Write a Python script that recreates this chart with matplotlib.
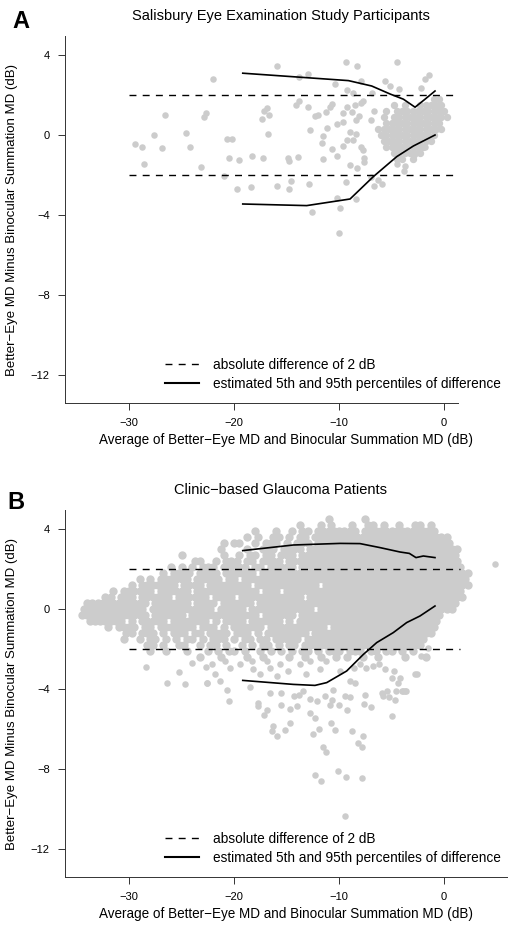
#!/usr/bin/env python3
"""
Bland-Altman style plots: better-eye MD vs binocular summation MD
"""

import matplotlib.pyplot as plt
from matplotlib.lines import Line2D

plt.rcParams['font.family'] = ['Liberation Sans', 'DejaVu Sans']

# ---- panel A: Salisbury Eye Examination Study ----
# individual points (average MD, difference), dB
a_x = [-29.4, -28.8, -28.6, -27.6, -26.9, -26.6, -24.6, -24.2, -23.1, -22.9, -22.7, -22.0,
       -21.0, -20.7, -20.2, -20.5, -19.7, -19.5, -18.4, -18.3, -17.2, -17.3, -17.1, -16.9,
       -16.65, -16.8, -15.9, -15.9, -14.9, -14.8, -14.8, -14.6, -13.9, -14.1, -13.85, -13.8,
       -12.95, -12.95, -12.85, -12.75, -12.6, -12.3, -12.0, -11.5, -11.6, -11.5, -11.2, -10.9,
       -10.7, -11.1, -10.7, -10.35, -10.2, -10.2, -10.2, -9.95, -9.97, -9.6, -9.6, -9.6,
       -9.3, -9.3, -9.27, -9.27, -9.2, -9.0, -9.0, -8.8, -8.7, -8.7, -8.5, -8.4, -8.4,
       -8.35, -8.3, -8.3, -8.1, -7.9, -7.9, -7.9, -7.7, -7.7, -7.6, -7.6, -7.0, -7.0,
       -6.9, -6.7, -6.7, -6.3, -5.9, -5.6, -5.1, -4.5, -4.3, -4.5, -3.7, -3.8, -2.9,
       -2.2, -1.8, -1.4, -1.8]
a_y = [-0.47, -0.58, -1.45, -0.02, -0.63, 1.0, 0.12, -0.58, -1.58, 0.88, 1.08, 2.82,
       -2.03, -0.22, -0.22, -1.15, -2.68, -1.23, -2.58, -1.03, -1.15, 0.8, 1.22, 1.33,
       0.98, 0.07, 3.47, -2.53, -1.13, -1.3, -2.68, -2.3, -1.12, 1.5, 1.72, 2.92,
       3.03, 1.4, -2.43, 0.23, -3.85, 0.95, 1.0, -0.03, -0.38, -1.22, 1.17, 1.42,
       1.53, 0.33, -0.7, 2.55, -1.03, 0.53, -3.13, -3.63, -4.92, -0.57, 1.08, 0.67,
       3.67, -2.37, 2.25, -0.25, 1.42, 0.13, -1.48, 1.17, 2.08, -0.25, 1.5, 0.75, 0.05,
       -3.18, 3.45, -1.67, 0.95, 2.68, 1.58, -0.58, -0.75, 1.68, -1.17, -1.33, 0.75, -2.08,
       2.08, 1.22, -2.53, -2.25, -2.45, 2.7, 2.45, 3.67, 2.3, -1.45, -1.53, -1.78, -1.0,
       2.37, 2.78, 3.0, -0.62]
# dense cluster near normal fields: one '#' per point, 0.5 dB columns, 0.3 dB rows
a_map_x0 = -7.0
a_map_y0 = 1.8
a_map = ["............##..",
         "....#.#..#####..",
         "...#.##########.",
         "..#.###########.",
         "...###########..",
         ".#############..",
         "..###########...",
         "..##########....",
         "...########.....",
         "....######......",
         ".....##.#......."]
# estimated 5th / 95th percentiles of difference
a_upper_x = [-19.17, -9.11, -6.89, -5.14, -3.87, -2.76, -1.81, -0.86]
a_upper_y = [3.09, 2.72, 2.45, 2.05, 1.79, 1.39, 1.79, 2.2]
a_lower_x = [-19.17, -13.08, -8.95, -6.73, -4.5, -2.92, -0.86]
a_lower_y = [-3.45, -3.53, -3.2, -2.08, -1.08, -0.55, 0.0]

# ---- panel B: clinic-based glaucoma patients ----
b_map_x0 = -35.0
b_map_y0 = 4.5
E = ".........."
F = "##########"
b_map = [
    E + E + E + E + "........#." + ".....#...." + E + E,
    E + E + E + E + "..#...#.#." + "..#..##.#." + ".#..##.#.." + E,
    E + E + E + "....#...#." + ".#.##.####" + "####.#####" + "#########." + E,
    E + E + E + "..#.#..##." + "#.##.#####" + F + F + "#.........",
    E + E + "........#." + "##..#.###." + "#.###.####" + F + F + "##........",
    E + E + ".......#.." + "..#..###.#" + "###.######" + F + F + "###.......",
    E + E + "#.......#." + ".#.##.##.#" + "##.#######" + F + F + "###.......",
    E + E + "..##..#.##" + "#.##.####." + F + F + F + "###.......",
    E + "........#." + "#.#.###.##" + "###.##.###" + "##.#######" + F + F + "####......",
    E + "......#.##" + "##.####.##" + "####.#####" + F + F + F + "#####.....",
    E + "..#.#.####" + "##.#####.#" + "#.########" + F + F + F + "#####.....",
    E + "#.#######." + "####.#####" + "###.######" + "######.###" + F + F + "#####.....",
    ".......#.#" + "#####.####" + "##.#######" + "#####.###." + F + F + F + "####......",
    ".....##.##" + "#.######.#" + "#####.####" + ".#########" + "###.######" + F + F + "####......",
    "..########" + "####.#####" + "##.####.##" + "####.#####" + F + F + F + "###.......",
    ".#########" + "###.######" + "######.###" + "##.#######" + "#####.####" + F + F + "##........",
    ".#########" + "####.#####" + "#.########" + "#####.####" + "##.#######" + F + F + E,
    "..#######." + "#.#####.##" + "#####.#.##" + "##.######." + "#.########" + F + "#########." + E,
    "......#.##" + "##.##.####" + "###.###.#." + "######.###" + "########.#" + F + "#########." + E,
    ".........#" + "#.###.#.##" + "#.##.####." + "###.#.####" + "####.#####" + F + "########.." + E,
    ".........#" + "..#.##.#.#" + ".##.#.###." + "#.##.##.##" + "###.######" + F + "#######..." + E,
    E + "...##.#..#" + "#..#.##.#." + ".#.#.##.#." + "##.#######" + F + "######...." + E,
    E + "....#..#.." + ".#...#.#.#" + "#.#..#.#.#" + ".#.##.#.##" + "#.###.##.#" + "#.#.#....." + E,
    E + E + "...#...#.." + "..#..#...." + "#..#..#..#" + ".#..#..#.." + "..#...#..." + E,
]
# scattered points outside the dense cloud
b_x = [4.9, -28.4, -26.35, -25.2, -24.7, -24.0, -22.7, -22.6, -22.1, -21.8, -21.3, -20.9,
       -20.4, -19.4, -18.3, -18.15, -17.5, -16.9, -16.6, -15.9, -15.6, -14.9, -13.7, -13.1,
       -12.75, -11.8, -11.2, -9.9, -9.0, -8.6, -8.0, -7.4, -6.8, -6.2, -5.6, -4.98, -4.4,
       -3.75, -2.8, -2.2, -1.5, -4.8, -4.2, -2.6,
       -22.6, -20.7, -20.5, -18.5, -17.7, -17.7, -17.1, -16.9, -16.6, -16.25, -16.4, -15.9,
       -15.5, -15.5, -15.1, -14.7, -14.7, -14.3, -14.0, -13.8, -13.4, -12.75, -12.75, -12.45,
       -12.3, -12.3, -12.1, -11.9, -11.7, -11.55, -11.3, -11.2, -10.9, -10.8, -10.7, -10.6,
       -10.4, -10.1, -10.0, -9.4, -9.4, -9.3, -9.2, -9.0, -8.8, -8.5, -8.2, -7.8, -7.8,
       -7.7, -7.6, -7.5, -7.0, -5.9, -5.8, -5.2, -5.0, -4.7, -4.6, -3.9, -5.46, -4.03, -3.6]
b_y = [2.27, -2.9, -3.68, -3.13, -3.73, -2.68, -2.9, -3.68, -2.73, -3.27, -3.6, -2.6,
       -2.93, -2.77, -2.6, -3.02, -3.27, -2.6, -2.93, -3.35, -2.77, -3.1, -2.77, -3.27,
       -2.6, -3.02, -2.6, -3.1, -3.6, -2.93, -2.77, -2.93, -2.85, -2.77, -3.02, -3.43, -3.68,
       -4.1, -3.27, -2.35, -1.93, -3.1, -3.45, -3.27,
       -3.68, -4.07, -4.6, -3.9, -4.68, -4.85, -5.32, -5.07, -4.18, -5.85, -6.1, -6.35,
       -4.8, -4.18, -6.07, -5.02, -5.68, -4.35, -4.85, -4.3, -4.1, -5.18, -4.52, -6.27,
       -5.47, -8.32, -4.6, -5.98, -8.6, -6.9, -4.35, -7.15, -4.8, -5.68, -4.57, -4.07,
       -6.05, -8.1, -4.8, -4.35, -10.35, -8.4, -5.03, -4.4, -6.1, -3.68, -6.68, -6.9, -8.43,
       -6.35, -4.77, -4.32, -4.88, -4.18, -4.35, -4.4, -5.37, -4.55, -4.1, -4.1, -4.1, -4.1, -4.1]
b_upper_x = [-19.17, -14.35, -9.9, -8.0, -6.1, -4.19, -3.3, -2.67, -1.97, -0.86]
b_upper_y = [2.92, 3.2, 3.28, 3.27, 3.07, 2.85, 2.78, 2.57, 2.65, 2.57]
b_lower_x = [-19.17, -14.35, -12.29, -11.17, -9.27, -7.68, -6.41, -4.83, -3.56, -2.29, -0.86]
b_lower_y = [-3.57, -3.77, -3.82, -3.68, -3.1, -2.27, -1.68, -1.18, -0.68, -0.35, 0.15]

titles = ["Salisbury Eye Examination Study Participants", "Clinic\u2212based Glaucoma Patients"]
panel_letters = ["A", "B"]
y_ticks = [-12, -8, -4, 0, 4]
x_ticks = [-30, -20, -10, 0]
legend_labels = ["absolute difference of 2 dB",
                 "estimated 5th and 95th percentiles of difference"]
x_label = "Average of Better\u2212Eye MD and Binocular Summation MD (dB)"
y_label = "Better\u2212Eye MD Minus Binocular Summation MD (dB)"


def map_points(rows, x0, y0, dx=0.5, dy=0.3):
    xs, ys = [], []
    for r, row in enumerate(rows):
        for c, ch in enumerate(row):
            if ch == "#":
                xs.append(x0 + c * dx + (dx / 2 if r % 2 else 0))
                ys.append(y0 - r * dy)
    return xs, ys


W, H = 516, 931
fig = plt.figure(figsize=(W / 100, H / 100), dpi=100)
grey = "#cccccc"
axis_col = "#333333"

panels = [
    dict(box=(65, 36, 458, 403), xlim=(-36.1, 1.33), sx=a_x, sy=a_y,
         mp=map_points(a_map, a_map_x0, a_map_y0), ms=28,
         up=(a_upper_x, a_upper_y), lo=(a_lower_x, a_lower_y)),
    dict(box=(65, 510, 507, 877), xlim=(-36.1, 6.0), sx=b_x, sy=b_y,
         mp=map_points(b_map, b_map_x0, b_map_y0), ms=36,
         up=(b_upper_x, b_upper_y), lo=(b_lower_x, b_lower_y)),
]
offsets = [0, 474]

for i, p in enumerate(panels):
    l, t, r, b = p["box"]
    ax = fig.add_axes([l / W, 1 - b / H, (r - l) / W, (b - t) / H])
    ax.scatter(p["mp"][0], p["mp"][1], s=p["ms"], color=grey, linewidths=0, zorder=1)
    ax.scatter(p["sx"], p["sy"], s=22, color=grey, linewidths=0, zorder=1)
    for yy in (2, -2):
        ax.plot([-30, 1.5], [yy, yy], color="black", lw=1.0, ls=(0, (5, 4.5)), zorder=2)
    ax.plot(*p["up"], color="black", lw=1.2, zorder=3)
    ax.plot(*p["lo"], color="black", lw=1.2, zorder=3)
    ax.set_xlim(*p["xlim"])
    ax.set_ylim(-13.4, 4.95)
    ax.set_xticks(x_ticks)
    ax.set_yticks(y_ticks)
    ax.tick_params(labelsize=8, length=5, width=0.7, color=axis_col, pad=6)
    for s in ("top", "right"):
        ax.spines[s].set_visible(False)
    for s in ("left", "bottom"):
        ax.spines[s].set_color(axis_col)
        ax.spines[s].set_linewidth(0.7)

    handles = [Line2D([], [], color="black", lw=1.0, ls=(0, (5, 4.5))),
               Line2D([], [], color="black", lw=1.5)]
    oy = offsets[i]
    ax.legend(handles, legend_labels, loc="upper left", frameon=False, fontsize=9.8,
              bbox_to_anchor=(165 / W, 1 - (358 + oy) / H), bbox_transform=fig.transFigure,
              borderpad=0, borderaxespad=0, handlelength=2.5, handletextpad=1.05,
              labelspacing=0.35)

    fig.text(281 / W, 1 - (16 + oy) / H, titles[i], ha="center", va="center", fontsize=10.5)
    fig.text((21 if i == 0 else 16) / W, 1 - (22 + oy + (6 if i else 0)) / H, panel_letters[i],
             ha="center", va="center", fontsize=17, fontweight="bold")
    fig.text(286 / W, 1 - (440 + oy) / H, x_label, ha="center", va="center", fontsize=9.75)
    fig.text(12 / W, 1 - ((t + b) / 2) / H, y_label, ha="center", va="center",
             rotation=90, fontsize=9.5)

fig.savefig("out.png", dpi=100)
